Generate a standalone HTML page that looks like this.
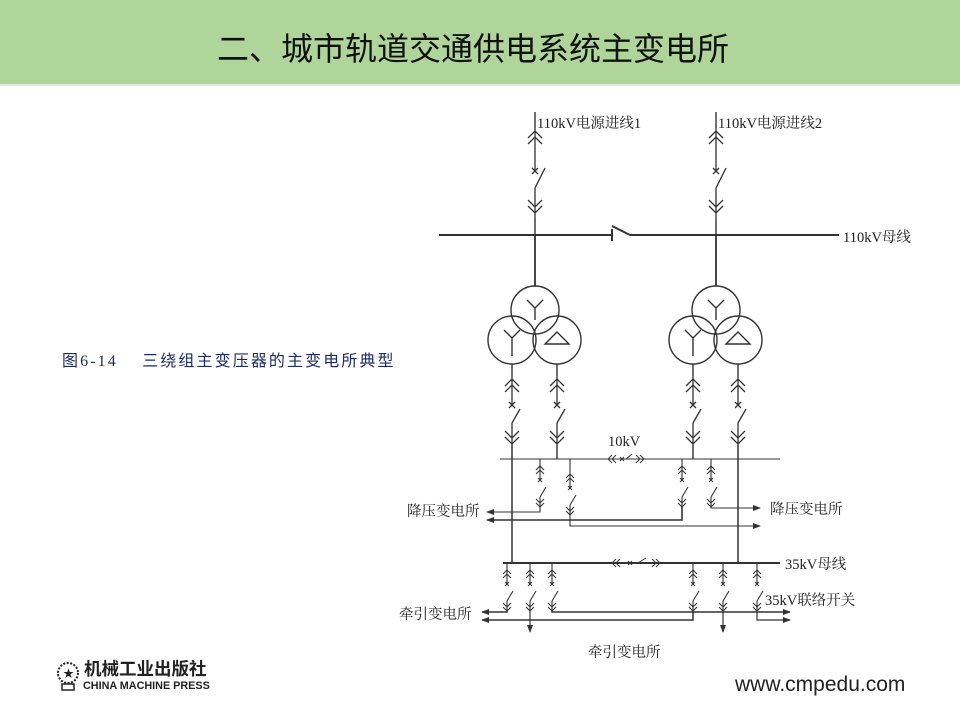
<!DOCTYPE html>
<html><head><meta charset="utf-8">
<style>
html,body{margin:0;padding:0;background:#fff;}
body{width:960px;height:718px;position:relative;overflow:hidden;font-family:"Liberation Serif","Noto Serif CJK SC",serif;}
.hdr{position:absolute;left:0;top:0;width:960px;height:84px;background:#afd59a;border-bottom:2px solid #dfe9d8;}
.title{position:absolute;left:0;width:946px;top:24px;text-align:center;font-family:"Liberation Sans","WenQuanYi Zen Hei",sans-serif;font-size:32px;letter-spacing:0px;color:#111;}
.cap{position:absolute;left:62px;top:347px;font-size:16px;letter-spacing:2.1px;color:#1f2a6a;font-family:"Liberation Serif","Noto Sans CJK SC",serif;white-space:nowrap;}
.url{position:absolute;left:735px;top:673px;font-family:"Liberation Sans",sans-serif;font-size:21px;color:#222;}
.logo{position:absolute;left:54px;top:658px;}
</style></head><body>
<div class="hdr"><div class="title">二、城市轨道交通供电系统主变电所</div></div>
<div class="cap">图6-14&nbsp;&nbsp;&nbsp;&nbsp;三绕组主变压器的主变电所典型</div>
<div class="logo">
<svg width="170" height="36">
<circle cx="14" cy="15" r="10" fill="none" stroke="#222" stroke-width="2" stroke-dasharray="2 1.5"/>
<text x="9" y="19" font-size="11" fill="#222">★</text>
<rect x="8" y="26" width="12" height="6" fill="none" stroke="#222" stroke-width="1.5"/>
<text x="30" y="17" font-family="Noto Sans CJK SC,sans-serif" font-size="17.5" font-weight="bold" fill="#222">机械工业出版社</text>
<text x="29" y="31" font-family="Liberation Sans,sans-serif" font-size="10.8" font-weight="bold" fill="#222">CHINA MACHINE PRESS</text>
</svg></div>
<div class="url">www.cmpedu.com</div>

<svg width="960" height="718" style="position:absolute;left:0;top:0" font-family="Liberation Serif,Noto Serif CJK SC,serif" font-size="14.5" fill="#222">
<defs>
<g id="big" fill="none" stroke="#333" stroke-width="1.3">
<path d="M0,0 V43 M0,60 V90"/>
<path d="M-7,10 L0,3 L7,10 M-7,16 L0,9 L7,16"/>
<path d="M-3,40 L3,46 M3,40 L-3,46"/>
<path d="M0,60 L10,40"/>
<path d="M-7,72 L0,79 L7,72 M-7,78 L0,85 L7,78"/>
</g>
<g id="mid" fill="none" stroke="#333" stroke-width="1.3">
<path d="M0,0 V29 M0,47 V69"/>
<path d="M-7,10 L0,3 L7,10 M-7,16 L0,9 L7,16"/>
<path d="M-3,26 L3,32 M3,26 L-3,32"/>
<path d="M0,47 L8,33"/>
<path d="M-7,55 L0,62 L7,55 M-7,61 L0,68 L7,61"/>
</g>
<g id="sm" fill="none" stroke="#333" stroke-width="1.1">
<path d="M0,0 V21 M0,38 V48"/>
<path d="M-4,11 L0,7 L4,11 M-4,15 L0,11 L4,15"/>
<path d="M-2,19 L2,23 M2,19 L-2,23"/>
<path d="M0,38 L6,28"/>
<path d="M-4,40 L0,44 L4,40 M-4,44 L0,48 L4,44"/>
</g>
<marker id="ar" markerWidth="8" markerHeight="6" refX="7" refY="3" orient="auto" markerUnits="userSpaceOnUse"><path d="M0,0 L8,3 L0,6 Z" fill="#333"/></marker>
</defs>
<g fill="none" stroke="#333" stroke-width="1.4">
<path d="M535,112 V128 M535,218 V235"/>
<path d="M716,112 V128 M716,218 V235"/>
<path d="M439,235 H612 M612,229 V241 M612,226 L630,235 M630,235 H839" stroke-width="2"/>
<path d="M535,235 V286 M716,235 V286" stroke-width="1.8"/>
<circle cx="535" cy="310" r="24"/><circle cx="512" cy="340" r="24"/><circle cx="557" cy="340" r="24"/>
<circle cx="716" cy="310" r="24"/><circle cx="693" cy="340" r="24"/><circle cx="738" cy="340" r="24"/>
<path d="M527,300 L535,308 L543,300 M535,308 V320"/>
<path d="M708,300 L716,308 L724,300 M716,308 V320"/>
<path d="M504,330 L512,338 L520,330 M512,338 V356"/>
<path d="M685,330 L693,338 L701,330 M693,338 V356"/>
<path d="M545,344 L557,332 L569,344 Z M726,344 L738,332 L750,344 Z"/>
<path d="M512,364 V376 M557,364 V376 M693,364 V376 M738,364 V376"/>
<path d="M500,459 H780" stroke-width="1.1"/>
<path d="M557,445 V459 M693,445 V459"/>
<path d="M512,445 V563 M738,445 V563" stroke-width="1.5"/>
<path d="M612,455 L608,459 L612,463 M616,455 L612,459 L616,463 M636,455 L640,459 L636,463 M640,455 L644,459 L640,463" stroke-width="1"/>
<path d="M620,457 L624,461 M624,457 L620,461 M626,459 L632,454" stroke-width="1"/>
<path d="M540,507 V512 H487" marker-end="url(#ar)" stroke-width="1.1"/>
<path d="M682,507 V520 H487" marker-end="url(#ar)" stroke-width="1.6"/>
<path d="M570,507 V526 H760" marker-end="url(#ar)" stroke-width="1.1"/>
<path d="M711,507 V508 H760" marker-end="url(#ar)" stroke-width="1.1"/>
<path d="M503,563 H780" stroke-width="2"/>
<path d="M616,559 L612,563 L616,567 M620,559 L616,563 L620,567 M652,559 L656,563 L652,567 M656,559 L660,563 L656,567" stroke-width="1"/>
<path d="M628,561 L632,565 M632,561 L628,565 M638,563 L646,558" stroke-width="1"/>
<path d="M507,611 V612 H482" marker-end="url(#ar)" stroke-width="1.5"/>
<path d="M693,611 V620 H482" marker-end="url(#ar)" stroke-width="1.5"/>
<path d="M530,611 V632" marker-end="url(#ar)" stroke-width="1.2"/>
<path d="M723,611 V632" marker-end="url(#ar)" stroke-width="1.2"/>
<path d="M552,611 V612 H790" marker-end="url(#ar)" stroke-width="1.5"/>
<path d="M757,611 V620 H790" marker-end="url(#ar)" stroke-width="1.2"/>
</g>
<use href="#big" x="535" y="128"/><use href="#big" x="716" y="128"/>
<use href="#mid" x="512" y="376"/><use href="#mid" x="557" y="376"/>
<use href="#mid" x="693" y="376"/><use href="#mid" x="738" y="376"/>
<use href="#sm" x="540" y="459"/><use href="#sm" x="570" y="459" transform="translate(0,8)"/>
<path d="M570,459 V467" stroke="#333" stroke-width="1.1"/>
<use href="#sm" x="682" y="459"/><use href="#sm" x="711" y="459"/>
<use href="#sm" x="507" y="563"/><use href="#sm" x="530" y="563"/><use href="#sm" x="552" y="563"/>
<use href="#sm" x="693" y="563"/><use href="#sm" x="723" y="563"/><use href="#sm" x="757" y="563"/>
<text x="537" y="128">110kV电源进线1</text>
<text x="718" y="128">110kV电源进线2</text>
<text x="843" y="242">110kV母线</text>
<text x="608" y="446">10kV</text>
<text x="407" y="516">降压变电所</text>
<text x="770" y="514">降压变电所</text>
<text x="785" y="569">35kV母线</text>
<text x="765" y="605">35kV联络开关</text>
<text x="399" y="619">牵引变电所</text>
<text x="588" y="657">牵引变电所</text>
</svg>
</body></html>
